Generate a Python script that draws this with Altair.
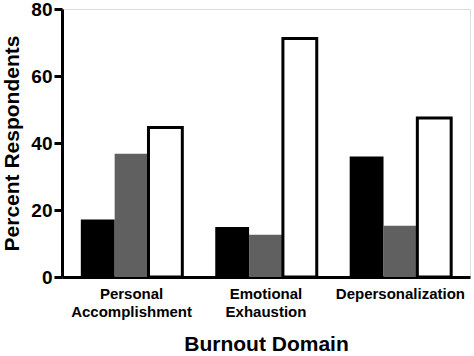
import altair as alt
import pandas as pd

domains = ["Personal Accomplishment", "Emotional Exhaustion", "Depersonalization"]
series = ["Series 1", "Series 2", "Series 3"]
series1 = [17.2, 14.9, 36.0]
series2 = [36.8, 12.6, 15.3]
series3 = [44.6, 71.2, 47.5]
y_ticks = [0, 20, 40, 60, 80]

rows = []
for i, d in enumerate(domains):
    for s, vals in zip(series, [series1, series2, series3]):
        rows.append({"domain": d, "series": s, "value": vals[i]})
df = pd.DataFrame(rows)

FONT = "Liberation Sans"

chart = alt.Chart(df).mark_bar(strokeWidth=3).encode(
    x=alt.X("domain:N", sort=domains,
            scale=alt.Scale(paddingInner=0.245, paddingOuter=0.14),
            axis=alt.Axis(title="Burnout Domain", labelAngle=0, ticks=False,
                          domainWidth=3, domainColor="black",
                          labelExpr="split(datum.label, ' ')",
                          labelFont=FONT, labelFontSize=15, labelFontWeight="bold",
                          labelColor="black", labelPadding=9, labelLineHeight=18,
                          titleFont=FONT, titleFontSize=21, titleFontWeight="bold",
                          titleColor="black", titlePadding=14)),
    xOffset=alt.XOffset("series:N", sort=series, scale=alt.Scale(paddingInner=0, paddingOuter=0)),
    y=alt.Y("value:Q", scale=alt.Scale(domain=[0, 80], nice=False),
            axis=alt.Axis(title="Percent Respondents", values=y_ticks, grid=False,
                          domainWidth=3, domainColor="black",
                          tickWidth=3, tickColor="black", tickSize=8,
                          labelFont=FONT, labelFontSize=19, labelFontWeight="bold",
                          labelColor="black", labelPadding=2,
                          titleFont=FONT, titleFontSize=21, titleFontWeight="bold",
                          titleColor="black", titlePadding=8)),
    fill=alt.Fill("series:N", sort=series,
                  scale=alt.Scale(domain=series, range=["black", "#606060", "white"]),
                  legend=None),
    stroke=alt.Stroke("series:N", sort=series,
                      scale=alt.Scale(domain=series, range=["transparent", "transparent", "black"]),
                      legend=None),
).properties(
    width=408, height=268,
    padding={"left": 62, "top": 9, "right": 4, "bottom": 79},
    autosize=alt.AutoSizeParams(type="none"),
).configure_view(stroke=None).configure(background="white")

chart.save("out.html", embed_options={"renderer": "svg", "actions": False})
